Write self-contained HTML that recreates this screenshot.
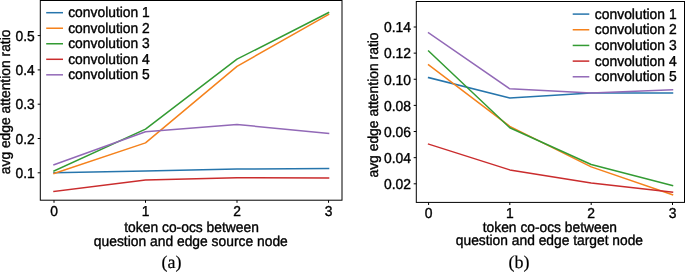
<!DOCTYPE html><html><head><meta charset="utf-8"><title>fig</title><style>html,body{margin:0;padding:0;background:#fff}svg{display:block}text{font-family:"Liberation Sans",sans-serif;fill:#000;stroke:#000;stroke-width:0.36px;text-rendering:geometricPrecision}.s{font-family:"Liberation Serif",serif;stroke-width:0.2px}</style></head><body>
<svg width="685" height="272" viewBox="0 0 685 272">
<rect width="685" height="272" fill="#fff"/>
<polyline points="54.00,172.70 145.50,170.90 237.00,169.00 328.55,168.50" fill="none" stroke="#2675ac" stroke-width="1.5" stroke-linejoin="round" stroke-linecap="square"/>
<polyline points="54.00,173.50 145.50,142.90 237.00,66.30 328.55,14.40" fill="none" stroke="#f5821c" stroke-width="1.5" stroke-linejoin="round" stroke-linecap="square"/>
<polyline points="54.00,171.00 145.50,129.10 237.00,59.20 328.55,12.60" fill="none" stroke="#339b33" stroke-width="1.5" stroke-linejoin="round" stroke-linecap="square"/>
<polyline points="54.00,191.40 145.50,180.00 237.00,177.80 328.55,178.00" fill="none" stroke="#ca2c2d" stroke-width="1.5" stroke-linejoin="round" stroke-linecap="square"/>
<polyline points="54.00,164.70 145.50,131.80 237.00,124.50 328.55,133.50" fill="none" stroke="#9269b7" stroke-width="1.5" stroke-linejoin="round" stroke-linecap="square"/>
<rect x="40.3" y="0.5" width="301.7" height="199.7" fill="none" stroke="#000" stroke-width="1.0"/>
<line x1="54.0" y1="200.2" x2="54.0" y2="202.79999999999998" stroke="#000" stroke-width="1.0"/>
<line x1="145.5" y1="200.2" x2="145.5" y2="202.79999999999998" stroke="#000" stroke-width="1.0"/>
<line x1="237.0" y1="200.2" x2="237.0" y2="202.79999999999998" stroke="#000" stroke-width="1.0"/>
<line x1="328.55" y1="200.2" x2="328.55" y2="202.79999999999998" stroke="#000" stroke-width="1.0"/>
<line x1="40.3" y1="172.80" x2="37.699999999999996" y2="172.80" stroke="#000" stroke-width="1.0"/>
<line x1="40.3" y1="138.50" x2="37.699999999999996" y2="138.50" stroke="#000" stroke-width="1.0"/>
<line x1="40.3" y1="104.20" x2="37.699999999999996" y2="104.20" stroke="#000" stroke-width="1.0"/>
<line x1="40.3" y1="69.90" x2="37.699999999999996" y2="69.90" stroke="#000" stroke-width="1.0"/>
<line x1="40.3" y1="35.60" x2="37.699999999999996" y2="35.60" stroke="#000" stroke-width="1.0"/>
<line x1="46.2" y1="12.70" x2="63.0" y2="12.70" stroke="#2675ac" stroke-width="1.5"/>
<line x1="46.2" y1="28.23" x2="63.0" y2="28.23" stroke="#f5821c" stroke-width="1.5"/>
<line x1="46.2" y1="43.76" x2="63.0" y2="43.76" stroke="#339b33" stroke-width="1.5"/>
<line x1="46.2" y1="59.29" x2="63.0" y2="59.29" stroke="#ca2c2d" stroke-width="1.5"/>
<line x1="46.2" y1="74.82" x2="63.0" y2="74.82" stroke="#9269b7" stroke-width="1.5"/>
<polyline points="428.60,77.60 509.80,98.00 591.20,93.00 672.50,92.90" fill="none" stroke="#2675ac" stroke-width="1.5" stroke-linejoin="round" stroke-linecap="square"/>
<polyline points="428.60,64.80 509.80,126.40 591.20,166.90 672.50,194.80" fill="none" stroke="#f5821c" stroke-width="1.5" stroke-linejoin="round" stroke-linecap="square"/>
<polyline points="428.60,51.00 509.80,127.80 591.20,164.50 672.50,185.50" fill="none" stroke="#339b33" stroke-width="1.5" stroke-linejoin="round" stroke-linecap="square"/>
<polyline points="428.60,144.10 509.80,169.90 591.20,182.90 672.50,192.10" fill="none" stroke="#ca2c2d" stroke-width="1.5" stroke-linejoin="round" stroke-linecap="square"/>
<polyline points="428.60,32.80 509.80,88.80 591.20,92.90 672.50,89.70" fill="none" stroke="#9269b7" stroke-width="1.5" stroke-linejoin="round" stroke-linecap="square"/>
<rect x="416.3" y="1.5" width="268.2" height="200.9" fill="none" stroke="#000" stroke-width="1.0"/>
<line x1="428.6" y1="202.4" x2="428.6" y2="205.0" stroke="#000" stroke-width="1.0"/>
<line x1="509.8" y1="202.4" x2="509.8" y2="205.0" stroke="#000" stroke-width="1.0"/>
<line x1="591.2" y1="202.4" x2="591.2" y2="205.0" stroke="#000" stroke-width="1.0"/>
<line x1="672.5" y1="202.4" x2="672.5" y2="205.0" stroke="#000" stroke-width="1.0"/>
<line x1="416.3" y1="183.80" x2="413.7" y2="183.80" stroke="#000" stroke-width="1.0"/>
<line x1="416.3" y1="157.67" x2="413.7" y2="157.67" stroke="#000" stroke-width="1.0"/>
<line x1="416.3" y1="131.53" x2="413.7" y2="131.53" stroke="#000" stroke-width="1.0"/>
<line x1="416.3" y1="105.40" x2="413.7" y2="105.40" stroke="#000" stroke-width="1.0"/>
<line x1="416.3" y1="79.26" x2="413.7" y2="79.26" stroke="#000" stroke-width="1.0"/>
<line x1="416.3" y1="53.13" x2="413.7" y2="53.13" stroke="#000" stroke-width="1.0"/>
<line x1="416.3" y1="27.00" x2="413.7" y2="27.00" stroke="#000" stroke-width="1.0"/>
<line x1="572.7" y1="14.10" x2="589.3" y2="14.10" stroke="#2675ac" stroke-width="1.5"/>
<line x1="572.7" y1="29.77" x2="589.3" y2="29.77" stroke="#f5821c" stroke-width="1.5"/>
<line x1="572.7" y1="45.44" x2="589.3" y2="45.44" stroke="#339b33" stroke-width="1.5"/>
<line x1="572.7" y1="61.11" x2="589.3" y2="61.11" stroke="#ca2c2d" stroke-width="1.5"/>
<line x1="572.7" y1="76.78" x2="589.3" y2="76.78" stroke="#9269b7" stroke-width="1.5"/>
<g style="filter:grayscale(1)">
<text transform="translate(54.00,215.70) scale(1,1.04)" font-size="13.85" text-anchor="middle">0</text>
<text transform="translate(145.50,215.70) scale(1,1.04)" font-size="13.85" text-anchor="middle">1</text>
<text transform="translate(237.00,215.70) scale(1,1.04)" font-size="13.85" text-anchor="middle">2</text>
<text transform="translate(328.55,215.70) scale(1,1.04)" font-size="13.85" text-anchor="middle">3</text>
<text transform="translate(34.70,177.90) scale(1,1.04)" font-size="13.85" text-anchor="end">0.1</text>
<text transform="translate(34.70,143.60) scale(1,1.04)" font-size="13.85" text-anchor="end">0.2</text>
<text transform="translate(34.70,109.30) scale(1,1.04)" font-size="13.85" text-anchor="end">0.3</text>
<text transform="translate(34.70,75.00) scale(1,1.04)" font-size="13.85" text-anchor="end">0.4</text>
<text transform="translate(34.70,40.70) scale(1,1.04)" font-size="13.85" text-anchor="end">0.5</text>
<text transform="translate(68.20,17.30) scale(1,1.04)" font-size="13.85" text-anchor="start">convolution 1</text>
<text transform="translate(68.20,32.83) scale(1,1.04)" font-size="13.85" text-anchor="start">convolution 2</text>
<text transform="translate(68.20,48.36) scale(1,1.04)" font-size="13.85" text-anchor="start">convolution 3</text>
<text transform="translate(68.20,63.89) scale(1,1.04)" font-size="13.85" text-anchor="start">convolution 4</text>
<text transform="translate(68.20,79.42) scale(1,1.04)" font-size="13.85" text-anchor="start">convolution 5</text>
<text transform="translate(10.00,101.90) rotate(-90) scale(1,1.04)" font-size="13.85" text-anchor="middle">avg edge attention ratio</text>
<text transform="translate(191.60,231.50) scale(1,1.04)" font-size="13.85" text-anchor="middle">token co-ocs between</text>
<text transform="translate(190.80,245.50) scale(1,1.04)" font-size="13.85" text-anchor="middle">question and edge source node</text>
<text class="s" transform="translate(171.40,267.60) scale(1,1.0)" font-size="18" text-anchor="middle">(a)</text>
<text transform="translate(428.60,217.70) scale(1,1.04)" font-size="13.9" text-anchor="middle">0</text>
<text transform="translate(509.80,217.70) scale(1,1.04)" font-size="13.9" text-anchor="middle">1</text>
<text transform="translate(591.20,217.70) scale(1,1.04)" font-size="13.9" text-anchor="middle">2</text>
<text transform="translate(672.50,217.70) scale(1,1.04)" font-size="13.9" text-anchor="middle">3</text>
<text transform="translate(411.00,189.10) scale(1,1.04)" font-size="13.9" text-anchor="end">0.02</text>
<text transform="translate(411.00,162.97) scale(1,1.04)" font-size="13.9" text-anchor="end">0.04</text>
<text transform="translate(411.00,136.83) scale(1,1.04)" font-size="13.9" text-anchor="end">0.06</text>
<text transform="translate(411.00,110.70) scale(1,1.04)" font-size="13.9" text-anchor="end">0.08</text>
<text transform="translate(411.00,84.56) scale(1,1.04)" font-size="13.9" text-anchor="end">0.10</text>
<text transform="translate(411.00,58.43) scale(1,1.04)" font-size="13.9" text-anchor="end">0.12</text>
<text transform="translate(411.00,32.30) scale(1,1.04)" font-size="13.9" text-anchor="end">0.14</text>
<text transform="translate(594.80,18.70) scale(1,1.04)" font-size="13.9" text-anchor="start">convolution 1</text>
<text transform="translate(594.80,34.37) scale(1,1.04)" font-size="13.9" text-anchor="start">convolution 2</text>
<text transform="translate(594.80,50.04) scale(1,1.04)" font-size="13.9" text-anchor="start">convolution 3</text>
<text transform="translate(594.80,65.71) scale(1,1.04)" font-size="13.9" text-anchor="start">convolution 4</text>
<text transform="translate(594.80,81.38) scale(1,1.04)" font-size="13.9" text-anchor="start">convolution 5</text>
<text transform="translate(378.20,105.00) rotate(-90) scale(1,1.04)" font-size="13.9" text-anchor="middle">avg edge attention ratio</text>
<text transform="translate(549.90,231.80) scale(1,1.04)" font-size="13.8" text-anchor="middle">token co-ocs between</text>
<text transform="translate(549.40,245.40) scale(1,1.04)" font-size="13.8" text-anchor="middle">question and edge target node</text>
<text class="s" transform="translate(518.90,267.60) scale(1,1.0)" font-size="18" text-anchor="middle">(b)</text>
</g>
</svg></body></html>
